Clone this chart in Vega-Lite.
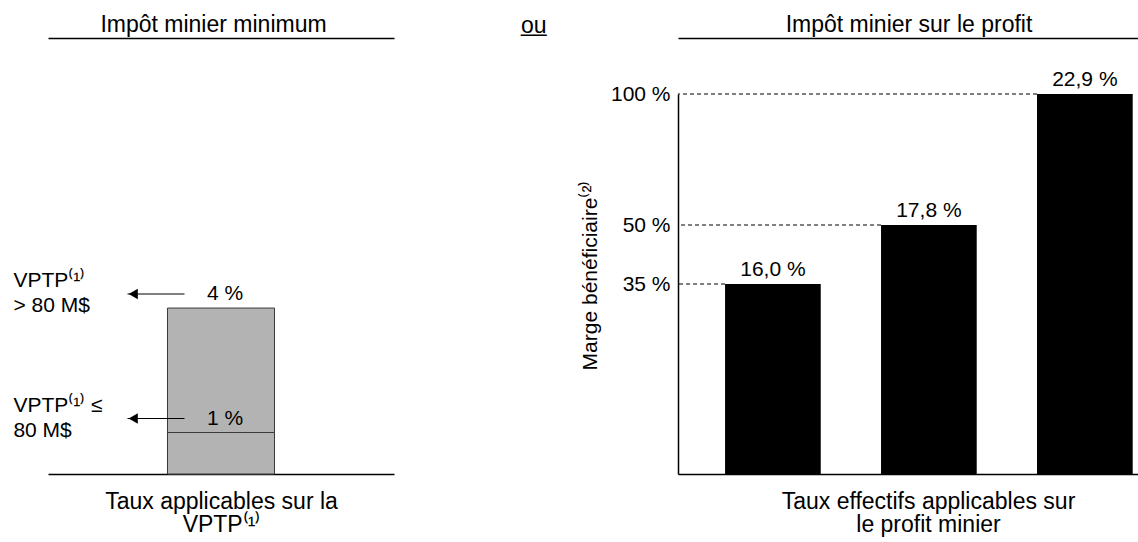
{
  "$schema": "https://vega.github.io/schema/vega-lite/v6.json",
  "padding": {"left": 13, "top": 13, "right": 0, "bottom": 0},
  "spacing": 185,
  "title": {
    "text": "ou",
    "subtitle": "__",
    "anchor": "start",
    "frame": "group",
    "dx": 473,
    "offset": -27,
    "fontSize": 23,
    "subtitleFontSize": 23,
    "subtitlePadding": -25,
    "font": "Liberation Sans",
    "subtitleFont": "Liberation Sans",
    "fontWeight": "normal",
    "color": "#000",
    "subtitleColor": "#000"
  },
  "hconcat": [
    {
      "width": 346,
      "height": 380,
      "data": {
        "values": [
          {"assiette": "VPTP", "tranche": "VPTP⁽¹⁾\n> 80 M$", "taux": 0.04},
          {"assiette": "VPTP", "tranche": "VPTP⁽¹⁾ ≤\n80 M$", "taux": 0.01}
        ]
      },
      "encoding": {
        "y": {
          "field": "taux",
          "type": "quantitative",
          "stack": null,
          "scale": {"domain": [0, 0.0916], "nice": false},
          "axis": null
        }
      },
      "layer": [
        {
          "mark": {"type": "bar", "fill": "#b3b3b3", "stroke": "#3a3a3a", "strokeWidth": 1},
          "encoding": {
            "x": {
              "field": "assiette",
              "type": "nominal",
              "scale": {"type": "band", "paddingInner": 0.1046, "paddingOuter": 1},
              "axis": {
                "orient": "bottom",
                "labels": false,
                "ticks": false,
                "tickSize": 0,
                "domainWidth": 1.5,
                "title": ["Taux applicables sur la", "VPTP⁽¹⁾"],
                "titlePadding": 16,
                "titleLineHeight": 23.5
              }
            }
          }
        },
        {
          "mark": {"type": "text", "baseline": "alphabetic", "dy": -8, "dx": 4, "fontSize": 21, "color": "#000"},
          "encoding": {
            "x": {
              "field": "assiette",
              "type": "nominal",
              "axis": {
                "orient": "top",
                "offset": 56,
                "labels": false,
                "ticks": false,
                "tickSize": 0,
                "domainWidth": 1.5,
                "title": "Impôt minier minimum",
                "titlePadding": 2,
                "titleX": 165
              }
            },
            "text": {"field": "taux", "type": "quantitative", "format": ".0%"}
          }
        },
        {
          "mark": {"type": "tick", "orient": "horizontal", "size": 57, "thickness": 1, "color": "#000", "opacity": 1, "yOffset": -14, "xOffset": -65},
          "encoding": {
            "x": {"field": "assiette", "type": "nominal", "axis": null}
          }
        },
        {
          "mark": {"type": "point", "shape": "triangle-left", "filled": true, "size": 110, "color": "#000", "opacity": 1, "yOffset": -14},
          "encoding": {
            "x": {"field": "assiette", "type": "nominal", "bandPosition": -0.32, "axis": null}
          }
        },
        {
          "mark": {"type": "text", "align": "left", "baseline": "middle", "lineBreak": "\n", "lineHeight": 25, "dy": -27, "fontSize": 21, "color": "#000"},
          "encoding": {
            "x": {"field": "assiette", "type": "nominal", "bandPosition": -1.44, "axis": null},
            "text": {"field": "tranche"}
          }
        }
      ],
      "resolve": {"axis": {"x": "independent"}}
    },
    {
      "width": 461,
      "height": 380,
      "data": {
        "values": [
          {"palier": "35 %", "marge": 0.35, "taux": 0.16},
          {"palier": "50 %", "marge": 0.5, "taux": 0.178},
          {"palier": "100 %", "marge": 1.0, "taux": 0.229}
        ]
      },
      "encoding": {
        "y": {
          "field": "marge",
          "type": "quantitative",
          "scale": {"domain": [0, 0.35, 0.5, 1], "range": [380, 190, 131, 0], "nice": false, "zero": false},
          "axis": {
            "values": [0.35, 0.5, 1],
            "format": ".0%",
            "ticks": false,
            "tickSize": 0,
            "labelPadding": 8,
            "labelFontSize": 21,
            "domainWidth": 1.5,
            "title": "Marge bénéficiaire⁽²⁾",
            "titleFontSize": 21,
            "titlePadding": 10,
            "titleY": 181
          }
        }
      },
      "layer": [
        {
          "mark": {"type": "rule", "strokeDash": [4, 3], "color": "#000", "strokeWidth": 1},
          "encoding": {
            "x": {"field": "palier", "type": "nominal", "sort": null, "bandPosition": 0, "axis": null},
            "x2": {"value": 0}
          }
        },
        {
          "mark": {"type": "bar", "color": "#000"},
          "encoding": {
            "x": {
              "field": "palier",
              "type": "nominal",
              "sort": null,
              "scale": {"type": "band", "paddingInner": 0.3865, "paddingOuter": 0.171, "align": 0.882},
              "axis": {
                "orient": "bottom",
                "labels": false,
                "ticks": false,
                "tickSize": 0,
                "domainWidth": 1.5,
                "title": ["Taux effectifs applicables sur", "le profit minier"],
                "titlePadding": 16,
                "titleLineHeight": 23.5,
                "titleX": 250
              }
            }
          }
        },
        {
          "mark": {"type": "text", "baseline": "alphabetic", "dy": -8, "fontSize": 21, "color": "#000"},
          "encoding": {
            "x": {
              "field": "palier",
              "type": "nominal",
              "sort": null,
              "axis": {
                "orient": "top",
                "offset": 56,
                "labels": false,
                "ticks": false,
                "tickSize": 0,
                "domainWidth": 1.5,
                "title": "Impôt minier sur le profit",
                "titlePadding": 2
              }
            },
            "text": {"field": "taux", "type": "quantitative", "format": ".1%"}
          }
        }
      ],
      "resolve": {"axis": {"x": "independent"}}
    }
  ],
  "config": {
    "font": "Liberation Sans",
    "view": {"stroke": null},
    "locale": {
      "number": {"decimal": ",", "thousands": " ", "grouping": [3], "currency": ["", " $"], "percent": " %"}
    },
    "axis": {
      "domainColor": "#000",
      "labelColor": "#000",
      "titleColor": "#000",
      "titleFontWeight": "normal",
      "titleFontSize": 23,
      "labelFontSize": 21,
      "labelFont": "Liberation Sans",
      "titleFont": "Liberation Sans",
      "grid": false
    },
    "text": {"font": "Liberation Sans"}
  }
}
